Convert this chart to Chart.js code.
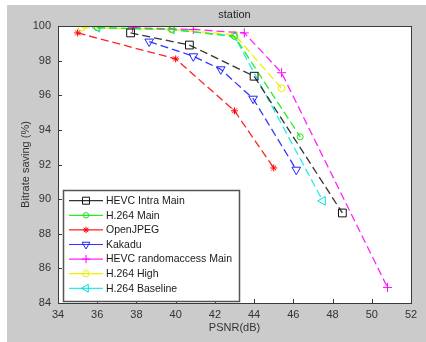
<!DOCTYPE html>
<html>
<head>
<meta charset="utf-8">
<script src="https://cdn.jsdelivr.net/npm/chart.js"></script>
<style>
html,body{margin:0;padding:0;background:#fff;}
canvas{display:block;}
</style>
</head>
<body>
<canvas id="c" width="426" height="342"></canvas>
<script>
const seriesNames = ["HEVC Intra Main","H.264 Main","OpenJPEG","Kakadu","HEVC randomaccess Main","H.264 High","H.264 Baseline"];
const hevcIntraX = [37.7, 40.7, 44.0, 48.5];
const hevcIntraY = [99.6, 98.9, 97.1, 89.2];
const h264MainX = [36.0, 39.8, 43.0, 46.35];
const h264MainY = [99.9, 99.8, 99.4, 93.6];
const openJpegX = [35.0, 40.0, 43.0, 45.0];
const openJpegY = [99.6, 98.1, 95.1, 91.8];
const kakaduX = [38.65, 40.9, 42.3, 43.95, 46.15];
const kakaduY = [99.1, 98.25, 97.5, 95.8, 91.7];
const hevcRaX = [37.8, 40.9, 43.5, 45.4, 50.8];
const hevcRaY = [99.9, 99.8, 99.6, 97.3, 84.9];
const h264HighX = [35.2, 39.8, 43.0, 45.4];
const h264HighY = [99.9, 99.8, 99.5, 96.4];
const h264BaseX = [36.0, 39.8, 43.0, 47.5];
const h264BaseY = [99.9, 99.8, 99.4, 89.9];
const xTicks = [34,36,38,40,42,44,46,48,50,52];
const yTicks = [84,86,88,90,92,94,96,98,100];

const styles = [
  {color:'#333333', mcolor:'#111111', ps:'rect', r:5.5, rot:0},
  {color:'#22ee22', mcolor:'#22dd22', ps:'circle', r:3, rot:0},
  {color:'#ff2222', mcolor:'#ff0000', ps:'star', r:3.5, rot:0},
  {color:'#3333ff', mcolor:'#2222ff', ps:'triangle', r:5, rot:180},
  {color:'#ff22ff', mcolor:'#ff00ff', ps:'cross', r:4.5, rot:0},
  {color:'#eeee00', mcolor:'#eeee00', ps:'circle', r:3.5, rot:0},
  {color:'#22eeee', mcolor:'#00dddd', ps:'triangle', r:5, rot:270}
];
const xs = [hevcIntraX,h264MainX,openJpegX,kakaduX,hevcRaX,h264HighX,h264BaseX];
const ys = [hevcIntraY,h264MainY,openJpegY,kakaduY,hevcRaY,h264HighY,h264BaseY];

const datasets = seriesNames.map((name,i)=>({
  label: name,
  data: xs[i].map((x,j)=>({x:x, y:ys[i][j]})),
  borderColor: styles[i].color,
  borderWidth: 1.3,
  borderDash: [8,4],
  pointStyle: styles[i].ps,
  pointRadius: styles[i].r,
  pointRotation: styles[i].rot,
  pointBorderColor: styles[i].mcolor,
  pointBackgroundColor: 'rgba(0,0,0,0)',
  pointBorderWidth: 1,
  fill: false,
  tension: 0
}));

const FONT = 'Arial, "Liberation Sans", sans-serif';

const bgPlugin = {
  id: 'bg',
  beforeDraw(chart){
    const ctx = chart.ctx, a = chart.chartArea;
    ctx.save();
    ctx.fillStyle = '#ffffff';
    ctx.fillRect(0,0,chart.width,chart.height);
    ctx.fillStyle = '#cbcbcb';
    ctx.fillRect(7,5,chart.width-7,chart.height-5);
    ctx.fillStyle = '#ffffff';
    ctx.fillRect(a.left,a.top,a.right-a.left,a.bottom-a.top);
    ctx.restore();
  },
  afterDraw(chart){
    const ctx = chart.ctx, a = chart.chartArea;
    const xs_ = chart.scales.x, ys_ = chart.scales.y;
    ctx.save();
    ctx.strokeStyle = '#3a3a3a';
    ctx.lineWidth = 1;
    ctx.strokeRect(Math.round(a.left)+0.5, Math.round(a.top)+0.5, Math.round(a.right-a.left), Math.round(a.bottom-a.top));
    ctx.beginPath();
    xTicks.forEach(v=>{
      const px = Math.round(xs_.getPixelForValue(v))+0.5;
      ctx.moveTo(px, a.bottom); ctx.lineTo(px, a.bottom-4);
    });
    yTicks.forEach(v=>{
      const py = Math.round(ys_.getPixelForValue(v))+0.5;
      ctx.moveTo(a.left, py); ctx.lineTo(a.left+4, py);
    });
    ctx.stroke();
    ctx.fillStyle = '#222';
    ctx.font = '11px ' + FONT;
    ctx.textAlign = 'center';
    ctx.textBaseline = 'middle';
    ctx.fillText('station', (a.left+a.right)/2, 15);
    const lx = 63, ly = 190, lw = 176, lh = 111;
    ctx.fillStyle = '#ffffff';
    ctx.fillRect(lx, ly, lw, lh);
    ctx.strokeStyle = '#555555';
    ctx.lineWidth = 1.5;
    ctx.strokeRect(lx+0.5, ly+0.5, lw, lh);
    chart.data.datasets.forEach((ds,i)=>{
      const yy = 200.7 + i*14.6;
      ctx.setLineDash([]);
      ctx.strokeStyle = styles[i].color;
      ctx.lineWidth = 1.2;
      ctx.beginPath();
      ctx.moveTo(69, yy); ctx.lineTo(103, yy);
      ctx.stroke();
      ctx.strokeStyle = styles[i].mcolor;
      ctx.fillStyle = 'rgba(0,0,0,0)';
      ctx.lineWidth = 1;
      if (Chart.helpers && Chart.helpers.drawPoint) {
        Chart.helpers.drawPoint(ctx, {pointStyle: styles[i].ps, radius: styles[i].r*0.9, rotation: styles[i].rot, borderWidth: 1}, 86, yy);
      }
      ctx.fillStyle = '#1a1a1a';
      ctx.font = '10.5px ' + FONT;
      ctx.textAlign = 'left';
      ctx.textBaseline = 'middle';
      ctx.fillText(ds.label, 106, yy+0.5);
    });
    ctx.restore();
  }
};

new Chart(document.getElementById('c'), {
  type: 'line',
  data: { datasets: datasets },
  options: {
    responsive: false,
    animation: false,
    devicePixelRatio: 1,
    layout: { padding: { left: 7, top: 26, right: 15, bottom: 0 } },
    plugins: { legend: {display:false}, title: {display:false}, tooltip: {enabled:false} },
    scales: {
      x: {
        type: 'linear', min: 34, max: 52,
        afterFit(s){ s.height = 39; },
        afterBuildTicks(s){ s.ticks = xTicks.map(v=>({value:v})); },
        grid: { display: false, drawTicks: false },
        border: { display: false },
        ticks: { padding: 5, color: '#333', font: { size: 11, family: FONT }, maxRotation: 0 },
        title: { display: true, text: 'PSNR(dB)', color: '#333', font: { size: 11, family: FONT }, padding: { top: 0, bottom: 7 } }
      },
      y: {
        type: 'linear', min: 84, max: 100,
        afterFit(s){ s.width = 51; },
        afterBuildTicks(s){ s.ticks = yTicks.map(v=>({value:v})); },
        grid: { display: false, drawTicks: false },
        border: { display: false },
        ticks: { padding: 7, color: '#333', font: { size: 11, family: FONT } },
        title: { display: true, text: 'Bitrate saving (%)', color: '#333', font: { size: 11, family: FONT }, padding: { top: 12, bottom: 0 } }
      }
    }
  },
  plugins: [bgPlugin]
});
</script>
</body>
</html>
